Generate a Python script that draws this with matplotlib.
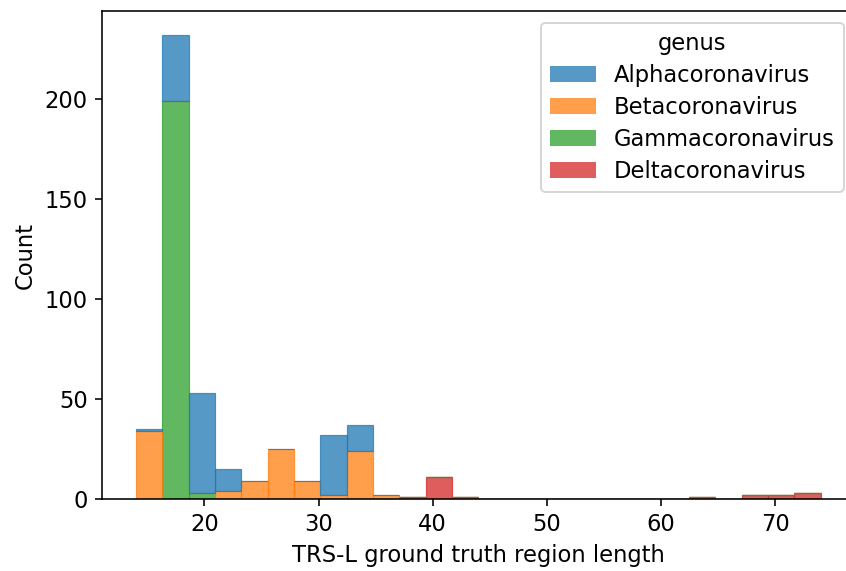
import numpy as np
import pandas as pd
import matplotlib
matplotlib.use("Agg")
import matplotlib.pyplot as plt
import seaborn as sns

# histogram counts per bin (26 bins from 14 to 74)
genera = ['Alphacoronavirus', 'Betacoronavirus', 'Gammacoronavirus', 'Deltacoronavirus']
alpha_counts = [1, 33, 50, 11, 0, 0, 0, 30, 13, 0, 0, 0, 0, 0, 0, 0, 0, 0, 0, 0, 0, 0, 0, 0, 0, 0]
beta_counts = [34, 0, 0, 4, 9, 25, 9, 2, 24, 2, 0, 0, 0, 0, 0, 0, 0, 0, 0, 0, 0, 0, 0, 0, 0, 0]
gamma_counts = [0, 199, 3, 0, 0, 0, 0, 0, 0, 0, 0, 0, 0, 0, 0, 0, 0, 0, 0, 0, 0, 0, 0, 0, 0, 0]
delta_counts = [0, 0, 0, 0, 0, 0, 0, 0, 0, 0, 1, 11, 1, 0, 0, 0, 0, 0, 0, 0, 0, 1, 0, 2, 2, 3]

x_min, x_max = 14, 74
n_bins = len(alpha_counts)
edges = np.linspace(x_min, x_max, n_bins + 1)
centers = (edges[:-1] + edges[1:]) / 2

rows = []
for g, counts in zip(genera, [alpha_counts, beta_counts, gamma_counts, delta_counts]):
    for c, n in zip(centers, counts):
        rows.append({'length': c, 'genus': g, 'n': n})
df = pd.DataFrame(rows)

plt.rcParams['font.size'] = 11.3
plt.rcParams['legend.labelspacing'] = 0.4

fig, ax = plt.subplots(figsize=(846 / 144, 571 / 144), dpi=144)
sns.histplot(data=df, x='length', weights='n', hue='genus', hue_order=genera,
             bins=n_bins, binrange=(x_min, x_max), multiple='stack', ax=ax,
             linewidth=0.6)
# edges in the same colour as the fill
for p in ax.patches:
    p.set_edgecolor(p.get_facecolor())
leg = ax.get_legend()
for h in leg.legend_handles:
    h.set_linewidth(0)
ax.set_xlabel('TRS-L ground truth region length')
ax.set_ylabel('Count')
# the original image is cropped on the right, right spine falls outside
fig.subplots_adjust(left=0.1203, right=1.0105, top=0.98, bottom=0.1256)
fig.savefig('out.png', dpi=144)
